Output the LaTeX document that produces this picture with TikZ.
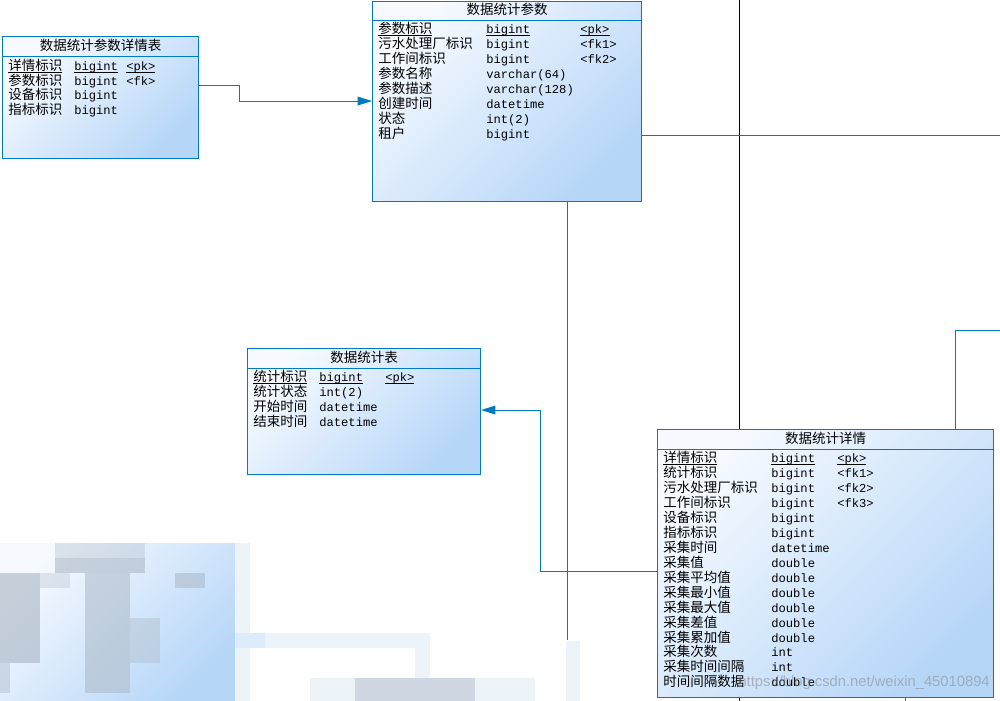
\documentclass[tikz,border=0pt]{standalone}
\usepackage{fontspec}
\setmainfont{Noto Sans CJK SC}
\setmonofont{Liberation Mono}[Scale=0.9]
\newfontfamily\marksans{Liberation Sans}
\usetikzlibrary{arrows.meta, positioning, calc}
\definecolor{erblue}{RGB}{0,122,194}
\definecolor{erlight}{RGB}{246,250,255}
\definecolor{erdark}{RGB}{182,214,248}
\definecolor{blurpale}{RGB}{236,244,250}
\definecolor{blurgray}{RGB}{172,184,198}
\newlength\namew
\newlength\typew
\newcommand\keyline[1]{\underline{\raisebox{0pt}[\height][0pt]{#1}}}
\newcommand\erow[3]{\makebox[\namew][l]{#1}\makebox[\typew][l]{\ttfamily #2}{\ttfamily #3}}

\begin{document}
\begin{tikzpicture}[
    x=0.025cm, y=-0.025cm,
    font=\fontsize{9.6}{10.63}\selectfont,
    >={Triangle[length=0.36cm, width=0.22cm]},
    tbl/.style={draw=erblue, line width=0.7pt, top color=erlight, bottom color=erdark, shading angle=45, anchor=north west, inner sep=0pt},
    head/.style={inner sep=0pt},
    body/.style={anchor=north west, inner sep=0pt, align=left},
    cols/.style 2 args={execute at begin node={\global\namew=#1\global\typew=#2\relax}},
    link/.style={draw=erblue, line width=0.7pt},
    fk/.style={link, ->, color=erblue},
    plain/.style={draw=black, line width=0.65pt},
    blur/.style={fill=blurpale}
]
\useasboundingbox (0,0) rectangle (1000,701);

% === MOSAIC (blurred parts) ===
\shade[top color=erlight, bottom color=erdark, shading angle=45] (0,543) rectangle (235,701);
\fill[blurpale] (235,543) rectangle (250,701);
\fill[blurgray, opacity=0.35] (55,543) rectangle (145,558);
\fill[blurgray, opacity=0.6] (55,558) rectangle (145,573);
\fill[blurgray, opacity=0.65] (0,573) rectangle (40,663);
\fill[blurgray, opacity=0.45] (0,663) rectangle (10,693);
\fill[blurgray, opacity=0.55] (85,573) rectangle (130,693);
\fill[blurgray, opacity=0.4] (130,618) rectangle (160,663);
\fill[blurgray, opacity=0.55] (175,573) rectangle (205,588);
\fill[blurgray, opacity=0.3] (40,573) rectangle (70,588);
\fill[blur] (235,633) rectangle (430,648);
\fill[erdark!60, opacity=0.6] (235,633) rectangle (265,648);
\fill[blur] (415,648) rectangle (430,701);
\fill[blur] (310,678) rectangle (535,701);
\fill[blurgray, opacity=0.45] (355,678) rectangle (475,701);
\fill[blur] (566,641) rectangle (580,701);

% === TABLE: 数据统计参数详情表 ===
\node[tbl, minimum width=4.9cm, minimum height=3.05cm] (paramdetail) at (2,36) {};
\node[head] at ([yshift=-0.24cm]paramdetail.north) {数据统计参数详情表};
\draw[link] ([yshift=-0.5cm]paramdetail.north west) -- ([yshift=-0.5cm]paramdetail.north east);
\node[body, cols={1.65cm}{1.3cm}] (paramdetailrows) at ([xshift=0.15cm, yshift=-0.56cm]paramdetail.north west) {%
\erow{\keyline{详情标识}}{\keyline{bigint}}{\keyline{<pk>}}\\
\erow{参数标识}{bigint}{<fk>}\\
\erow{设备标识}{bigint}{}\\
\erow{指标标识}{bigint}{}};

% === TABLE: 数据统计参数 ===
\node[tbl, minimum width=6.725cm, minimum height=5cm] (param) at (372,1) {};
\node[head] at ([yshift=-0.22cm]param.north) {数据统计参数};
\draw[link] ([yshift=-0.48cm]param.north west) -- ([yshift=-0.48cm]param.north east);
\node[body, cols={2.7cm}{2.35cm}] (paramrows) at ([xshift=0.15cm, yshift=-0.52cm]param.north west) {%
\erow{\keyline{参数标识}}{\keyline{bigint}}{\keyline{<pk>}}\\
\erow{污水处理厂标识}{bigint}{<fk1>}\\
\erow{工作间标识}{bigint}{<fk2>}\\
\erow{参数名称}{varchar(64)}{}\\
\erow{参数描述}{varchar(128)}{}\\
\erow{创建时间}{datetime}{}\\
\erow{状态}{int(2)}{}\\
\erow{租户}{bigint}{}};

% === TABLE: 数据统计表 ===
\node[tbl, minimum width=5.825cm, minimum height=3.15cm] (stat) at (247,348) {};
\node[head] at ([yshift=-0.23cm]stat.north) {数据统计表};
\draw[link] ([yshift=-0.5cm]stat.north west) -- ([yshift=-0.5cm]stat.north east);
\node[body, cols={1.65cm}{1.65cm}] (statrows) at ([xshift=0.15cm, yshift=-0.55cm]stat.north west) {%
\erow{\keyline{统计标识}}{\keyline{bigint}}{\keyline{<pk>}}\\
\erow{统计状态}{int(2)}{}\\
\erow{开始时间}{datetime}{}\\
\erow{结束时间}{datetime}{}};

% === TABLE: 数据统计详情 ===
\node[tbl, minimum width=8.4cm, minimum height=6.7cm] (statdetail) at (657,429) {};
\node[head] at ([yshift=-0.23cm]statdetail.north) {数据统计详情};
\draw[link] ([yshift=-0.5cm]statdetail.north west) -- ([yshift=-0.5cm]statdetail.north east);
\node[body, cols={2.7cm}{1.65cm}] (statdetailrows) at ([xshift=0.15cm, yshift=-0.55cm]statdetail.north west) {%
\erow{\keyline{详情标识}}{\keyline{bigint}}{\keyline{<pk>}}\\
\erow{统计标识}{bigint}{<fk1>}\\
\erow{污水处理厂标识}{bigint}{<fk2>}\\
\erow{工作间标识}{bigint}{<fk3>}\\
\erow{设备标识}{bigint}{}\\
\erow{指标标识}{bigint}{}\\
\erow{采集时间}{datetime}{}\\
\erow{采集值}{double}{}\\
\erow{采集平均值}{double}{}\\
\erow{采集最小值}{double}{}\\
\erow{采集最大值}{double}{}\\
\erow{采集差值}{double}{}\\
\erow{采集累加值}{double}{}\\
\erow{采集次数}{int}{}\\
\erow{采集时间间隔}{int}{}\\
\erow{时间间隔数据}{double}{}};

% === CONNECTORS ===
\coordinate (topout) at (739,0);
\coordinate (rightout1) at (1000,135);
\coordinate (rightout2) at (1000,330);
\coordinate (midout) at (567,640);

% 参数详情 -> 参数
\draw[fk] ([yshift=-1.225cm]paramdetail.north east) -- ++(1cm,0) |- ([yshift=-2.5cm]param.north west);

% 详情 -> 统计表
\draw[fk] ([yshift=-3.55cm]statdetail.north west) -- ++(-2.9cm,0) |- ([yshift=-1.55cm]stat.north east);

% lines leaving the picture
\draw[plain] (topout) -- (topout |- statdetail.north);
\draw[link] (param.east |- rightout1) -- (rightout1);
\draw[link] (param.south -| midout) -- (midout);
\draw[link] (rightout2) -| ([xshift=-0.975cm]statdetail.north east);
\draw[plain] (statdetail.south -| topout) -- ++(0,-0.1cm);
\draw[link] ([xshift=-2.225cm]statdetail.south east) -- ++(0,-0.1cm);

% === WATERMARK ===
\node[font=\marksans\fontsize{10.5}{12}\selectfont, text=gray, opacity=0.5, anchor=east, inner sep=0pt] (mark) at (990,683) {https://blog.csdn.net/weixin\_45010894};

\end{tikzpicture}
\end{document}
